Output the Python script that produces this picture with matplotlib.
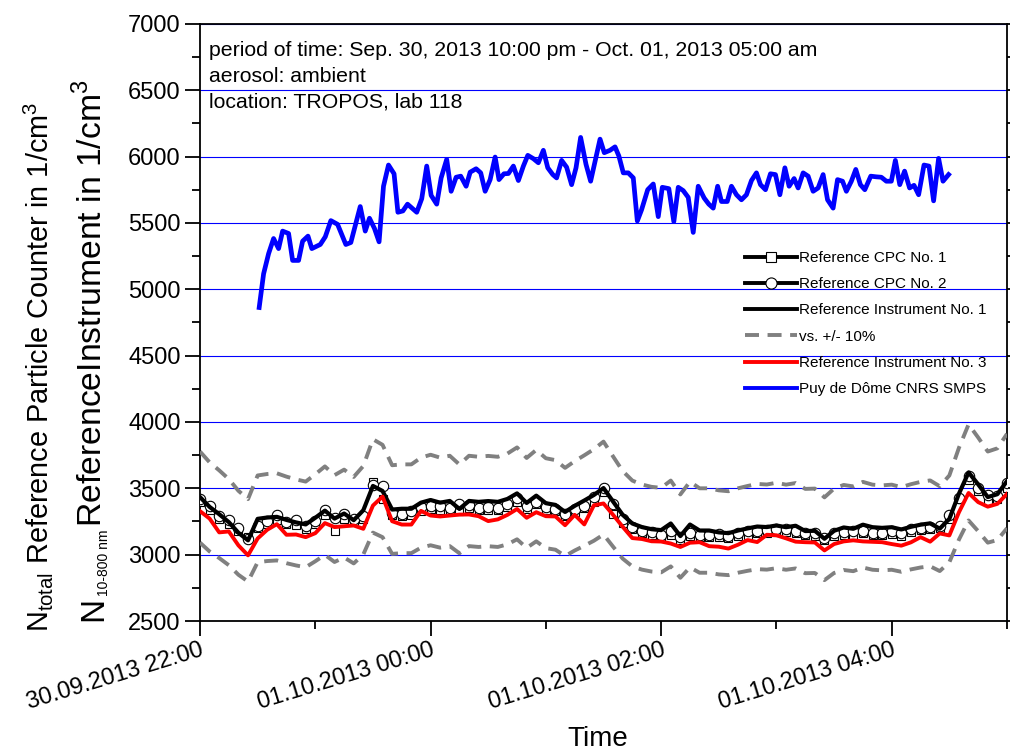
import numpy as np
import pandas as pd
import matplotlib
matplotlib.use('Agg')
import matplotlib.pyplot as plt
import matplotlib.dates as mdates
from matplotlib.ticker import MultipleLocator
from matplotlib.lines import Line2D

plt.rcParams['font.family'] = ['Liberation Sans', 'DejaVu Sans']
plt.rcParams['mathtext.fontset'] = 'custom'
plt.rcParams['mathtext.rm'] = 'Liberation Sans'

START = pd.Timestamp('2013-09-30 22:00')

# 5-min readings of the reference instruments (1/cm^3)
ref_instr_1 = [3434, 3360, 3305, 3245, 3165, 3108, 3270, 3280, 3285, 3262,
               3243, 3228, 3278, 3332, 3272, 3310, 3260, 3335, 3518, 3480,
               3340, 3346, 3346, 3392, 3412, 3392, 3405, 3345, 3405, 3398,
               3404, 3398, 3420, 3462, 3390, 3445, 3388, 3375, 3322, 3368,
               3408, 3450, 3502, 3400, 3300, 3235, 3208, 3192, 3185, 3235,
               3140, 3227, 3182, 3182, 3168, 3162, 3182, 3198, 3212, 3208,
               3220, 3207, 3218, 3178, 3180, 3120, 3180, 3205, 3195, 3226,
               3207, 3202, 3207, 3190, 3210, 3226, 3236, 3196, 3270, 3460,
               3620, 3530, 3434, 3456, 3555]

ref_instr_3 = [3328, 3272, 3168, 3175, 3070, 2995, 3122, 3188, 3230, 3150,
               3152, 3132, 3162, 3238, 3208, 3214, 3220, 3195, 3370, 3438,
               3252, 3227, 3227, 3330, 3295, 3288, 3295, 3302, 3303, 3290,
               3253, 3266, 3300, 3344, 3278, 3320, 3290, 3288, 3222, 3300,
               3228, 3372, 3386, 3300, 3210, 3125, 3118, 3101, 3099, 3084,
               3058, 3090, 3094, 3064, 3060, 3046, 3075, 3110, 3095, 3150,
               3146, 3123, 3098, 3094, 3092, 3032, 3080, 3100, 3108, 3100,
               3097, 3094, 3080, 3068, 3093, 3132, 3098, 3160, 3145, 3320,
               3465, 3396, 3362, 3383, 3458]

cpc_1 = [3395, 3340, 3270, 3230, 3175, 3130, 3200, 3230, 3265, 3230,
         3225, 3195, 3230, 3300, 3182, 3270, 3250, 3270, 3548, 3420,
         3300, 3290, 3300, 3330, 3345, 3340, 3330, 3330, 3350, 3340,
         3340, 3335, 3360, 3395, 3345, 3380, 3340, 3330, 3290, 3320,
         3350, 3400, 3470, 3305, 3240, 3190, 3160, 3145, 3130, 3150,
         3110, 3140, 3130, 3130, 3135, 3125, 3140, 3150, 3160, 3165,
         3170, 3170, 3160, 3145, 3140, 3110, 3140, 3150, 3150, 3160,
         3145, 3150, 3155, 3140, 3170, 3185, 3190, 3200, 3270, 3420,
         3560, 3480, 3400, 3420, 3500]

cpc_2 = [3420, 3370, 3290, 3262, 3200, 3120, 3215, 3255, 3300, 3245,
         3262, 3215, 3250, 3335, 3275, 3310, 3268, 3290, 3525, 3515,
         3315, 3305, 3330, 3360, 3370, 3365, 3350, 3385, 3375, 3350,
         3360, 3355, 3385, 3425, 3370, 3400, 3358, 3345, 3305, 3345,
         3370, 3435, 3505, 3380, 3270, 3210, 3180, 3168, 3148, 3180,
         3135, 3160, 3150, 3150, 3155, 3140, 3160, 3175, 3180, 3185,
         3190, 3195, 3180, 3165, 3160, 3125, 3160, 3170, 3175, 3180,
         3165, 3165, 3175, 3160, 3195, 3200, 3205, 3215, 3300, 3430,
         3590, 3500, 3450, 3440, 3540]

# SMPS scans: minutes after 22:00 and total number concentration
smps_minutes = [30.8, 33.1, 35.7, 38.3, 40.9, 43.0, 46.1, 48.2, 51.3, 53.4,
                56.2, 58.2, 62.6, 65.2, 68.1, 71.6, 75.9, 78.5, 83.4, 86.0,
                88.2, 90.8, 93.2, 95.5, 98.1, 101.0, 103.0, 105.6, 108.0, 112.8,
                115.4, 118.0, 120.3, 123.2, 125.5, 128.4, 130.7, 133.3, 135.7, 138.5,
                140.6, 143.7, 146.1, 148.4, 151.0, 153.6, 155.6, 158.2, 160.5, 163.1,
                165.7, 168.3, 170.6, 173.5, 176.1, 178.7, 181.0, 183.6, 185.6, 188.2,
                190.8, 193.4, 195.7, 198.1, 200.9, 203.3, 208.2, 210.4, 213.4, 216.0,
                218.0, 220.3, 222.9, 225.5, 227.6, 229.8, 233.0, 235.9, 238.5, 240.6,
                244.0, 246.6, 248.9, 251.5, 254.1, 256.7, 259.3, 262.4, 264.8, 267.1,
                269.4, 271.4, 274.4, 276.6, 279.2, 281.8, 284.4, 287.0, 289.6, 291.7,
                294.3, 296.9, 299.5, 301.8, 304.4, 306.6, 309.2, 311.3, 313.9, 316.5,
                319.1, 321.7, 324.3, 326.6, 329.5, 331.8, 334.4, 336.4, 339.0, 341.3,
                343.7, 346.0, 349.1, 352.0, 354.6, 357.2, 359.8, 361.9, 364.2, 366.7,
                369.3, 371.6, 374.0, 376.8, 379.4, 381.8, 384.4, 386.7, 389.6]
smps_total = [4863, 5117, 5269, 5383, 5307, 5439, 5421, 5218, 5218, 5363,
              5401, 5307, 5338, 5396, 5518, 5490, 5338, 5353, 5624, 5439,
              5536, 5459, 5358, 5777, 5937, 5871, 5581, 5591, 5642, 5581,
              5683, 5929, 5708, 5642, 5840, 5980, 5739, 5845, 5853, 5777,
              5883, 5909, 5878, 5739, 5827, 5997, 5827, 5871, 5873, 5929,
              5820, 5929, 6010, 5985, 5954, 6048, 5916, 5865, 5840, 5972,
              5921, 5789, 5916, 6145, 5942, 5815, 6132, 6030, 6048, 6074,
              6005, 5878, 5878, 5840, 5515, 5599, 5751, 5794, 5548, 5769,
              5759, 5510, 5769, 5744, 5693, 5429, 5777, 5688, 5642, 5612,
              5777, 5662, 5662, 5777, 5713, 5675, 5713, 5820, 5878, 5789,
              5751, 5871, 5865, 5713, 5916, 5777, 5835, 5764, 5878, 5853,
              5739, 5764, 5865, 5675, 5612, 5827, 5815, 5739, 5815, 5904,
              5789, 5751, 5853, 5848, 5845, 5815, 5815, 5972, 5789, 5891,
              5764, 5784, 5713, 5937, 5929, 5667, 5987, 5815, 5865]

xtick_hours = [0, 2, 4, 6]
xtick_labels = ['30.09.2013 22:00', '01.10.2013 00:00',
                '01.10.2013 02:00', '01.10.2013 04:00']

info_lines = ['period of time: Sep. 30, 2013 10:00 pm - Oct. 01, 2013 05:00 am',
              'aerosol: ambient',
              'location: TROPOS, lab 118']

t_ref = pd.date_range(START, periods=len(ref_instr_1), freq='5min')
t_smps = START + pd.to_timedelta(smps_minutes, unit='min')
ref1 = np.array(ref_instr_1, dtype=float)

fig = plt.figure(figsize=(10.1, 7.54), dpi=100)
ax = fig.add_axes([200 / 1010, 1 - 621 / 754, 807 / 1010, 597 / 754])

ax.yaxis.grid(True, which='major', color='blue', lw=0.8)
ax.set_axisbelow(True)

ax.plot(t_ref, cpc_1, ls='none', marker='s', ms=6, mfc='white', mec='black', mew=0.8, zorder=3)
ax.plot(t_ref, cpc_2, ls='none', marker='o', ms=7.5, mfc='white', mec='black', mew=0.8, zorder=3)
ax.plot(t_ref, ref1, color='black', lw=3, zorder=4)
ax.plot(t_ref, ref1 * 1.1, color='#808080', lw=2.8, dashes=(3.6, 2.2), zorder=4)
ax.plot(t_ref, ref1 * 0.9, color='#808080', lw=2.8, dashes=(3.6, 2.2), zorder=4)
ax.plot(t_ref, ref_instr_3, color='red', lw=2.8, zorder=5)
ax.plot(t_smps, smps_total, color='blue', lw=3.4, zorder=5)

ax.set_ylim(2500, 7000)
ax.set_xlim(START, START + pd.Timedelta(hours=7))
ax.yaxis.set_major_locator(MultipleLocator(500))
ax.yaxis.set_minor_locator(MultipleLocator(250))
ax.xaxis.set_minor_locator(mdates.HourLocator())
ax.set_xticks([START + pd.Timedelta(hours=h) for h in xtick_hours])
ax.set_xticklabels(xtick_labels, rotation=17, ha='right', rotation_mode='anchor', fontsize=16)

for side in ax.spines.values():
    side.set_linewidth(1.3)
ax.tick_params(which='major', direction='out', length=11, width=1.3, labelsize=17, pad=3)
ax.tick_params(which='minor', direction='out', length=6, width=1.3)
ax.tick_params(axis='y', which='both', right=True)
ax.tick_params(axis='x', which='major', pad=2)

fig.text(598 / 1010, 1 - 739 / 754, 'Time', fontsize=20, ha='center', va='center')

# y-axis titles, written bottom-up from their baselines
ylab = dict(rotation=90, rotation_mode='anchor', ha='left', va='baseline')
fig.text(48 / 1010, 1 - 632 / 754,
         r'N$_{\mathregular{total}}$ Reference Particle Counter in 1/cm$^{\mathregular{3}}$',
         fontsize=20.8, **ylab)
fig.text(102 / 1010, 1 - 621 / 754, 'N', fontsize=24, **ylab)
fig.text(108 / 1010, 1 - 596 / 754, '10-800 nm', fontsize=10, **ylab)
fig.text(102 / 1010, 1 - 527 / 754, r'ReferenceInstrument in 1/cm$^{\mathregular{3}}$',
         fontsize=24.3, **ylab)

for i, line in enumerate(info_lines):
    fig.text(209 / 1010, 1 - (50 + 26 * i) / 754, line, fontsize=15.3, va='center', ha='left')

handles = [
    Line2D([], [], color='black', lw=2.8, marker='s', ms=7, mfc='white', mec='black', mew=0.8),
    Line2D([], [], color='black', lw=2.8, marker='o', ms=8, mfc='white', mec='black', mew=0.8),
    Line2D([], [], color='black', lw=2.8),
    Line2D([], [], color='#808080', lw=2.8, dashes=(3.6, 2.2)),
    Line2D([], [], color='red', lw=2.8),
    Line2D([], [], color='blue', lw=2.8),
]
labels = ['Reference CPC No. 1', 'Reference CPC No. 2', 'Reference Instrument No. 1',
          'vs. +/- 10%', 'Reference Instrument No. 3', 'Puy de Dôme CNRS SMPS']
fig.legend(handles, labels, loc='upper left', bbox_to_anchor=(745 / 1010, 1 - 251 / 754),
           frameon=False, fontsize=11, handlelength=3.4, handletextpad=0.15,
           labelspacing=0.8, borderpad=0, borderaxespad=0)

fig.savefig('out.png', dpi=100)
